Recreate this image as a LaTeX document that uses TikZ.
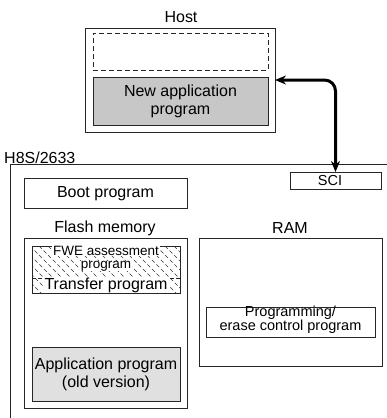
\documentclass[tikz,border=0pt]{standalone}
\usepackage{fontspec}
\setmainfont{Liberation Sans}
\usetikzlibrary{arrows.meta}
\begin{document}
\begin{tikzpicture}[x=1pt,y=-1pt,
  box/.style={draw=black!85, line width=1pt, outer sep=0pt, inner sep=0pt},
  big/.style={font=\fontsize{16}{18}\selectfont, align=center, inner sep=0pt},
  small/.style={font=\fontsize{14.5}{14}\selectfont, align=center, inner sep=0pt},
  tiny/.style={font=\fontsize{13.5}{13}\selectfont, align=center, inner sep=0pt},
  link/.style={line width=3pt, {Stealth[length=11pt,width=9pt]}-{Stealth[length=11pt,width=9pt]}, rounded corners=11pt},
  hatch/.style={draw=black!80, line width=0.6pt, dash pattern=on 4pt off 2.5pt},
]
\useasboundingbox (0,0) rectangle (387,418);
% Host
\node[big] (hostlbl) at (181,17) {Host};
\node[box, minimum width=190pt, minimum height=104pt] (host) at (180,80) {};
\node[box, dashed, dash pattern=on 5pt off 3pt, minimum width=175pt, minimum height=37pt] (empty) at (180.5,51.5) {};
\node[box, fill=black!22, minimum width=175pt, minimum height=48pt] (newapp) at (180.5,101) {};
\node[big] (newapptxt) at (180.5,101) {New application\\program};
% H8S
\node[big, anchor=west] (chip) at (4,158) {H8S/2633};
\draw[draw=black!85, line width=1pt] (387,164) -- (10,164) -- (10,418);
\node[box, minimum width=91pt, minimum height=17pt] (sci) at (335.5,180.5) {};
\node[small] (scitxt) at (330,181) {SCI};
\draw[link] (host.east) -| (sci.north);
\node[box, minimum width=163pt, minimum height=30pt] (boot) at (105.5,193) {};
\node[big] (boottxt) at (105.5,193.5) {Boot program};
\node[big] (flashlbl) at (105,228) {Flash memory};
\node[big] (ramlbl) at (290,228) {RAM};
\node[box, minimum width=163pt, minimum height=170pt] (flash) at (105.5,323) {};
\node[box, minimum width=183pt, minimum height=128pt] (ram) at (290.5,302) {};
% hatched part
\begin{scope}
\clip (32,246) rectangle (180,293);
\foreach \i in {-60,-51,...,180} \draw[hatch] (\i,246) -- ++(50,50);
\end{scope}
\node[box, minimum width=148pt, minimum height=47pt] (hatchbox) at (106,269.5) {};
\draw[draw=black!85, line width=0.8pt, dash pattern=on 4pt off 2pt] (hatchbox.west |- 0,278) -- (hatchbox.east |- 0,278);
\node[tiny, fill=white, inner xsep=1pt] (fwe1) at (106,251) {FWE assessment};
\node[tiny, fill=white, inner xsep=1pt] (fwe2) at (106,266) {program};
\node[big, fill=white, inner xsep=1pt, inner ysep=0.5pt] (transfer) at (106,285.5) {Transfer program};
% RAM contents
\node[box, minimum width=169pt, minimum height=30pt] (pe) at (290.5,322) {};
\node[small] (petxt) at (290.5,320) {Programming/\\erase control program};
% old app
\node[box, fill=black!12, minimum width=148pt, minimum height=54pt] (oldapp) at (106,374) {};
\node[big] (oldapptxt) at (106,374) {Application program\\(old version)};
\end{tikzpicture}
\end{document}
